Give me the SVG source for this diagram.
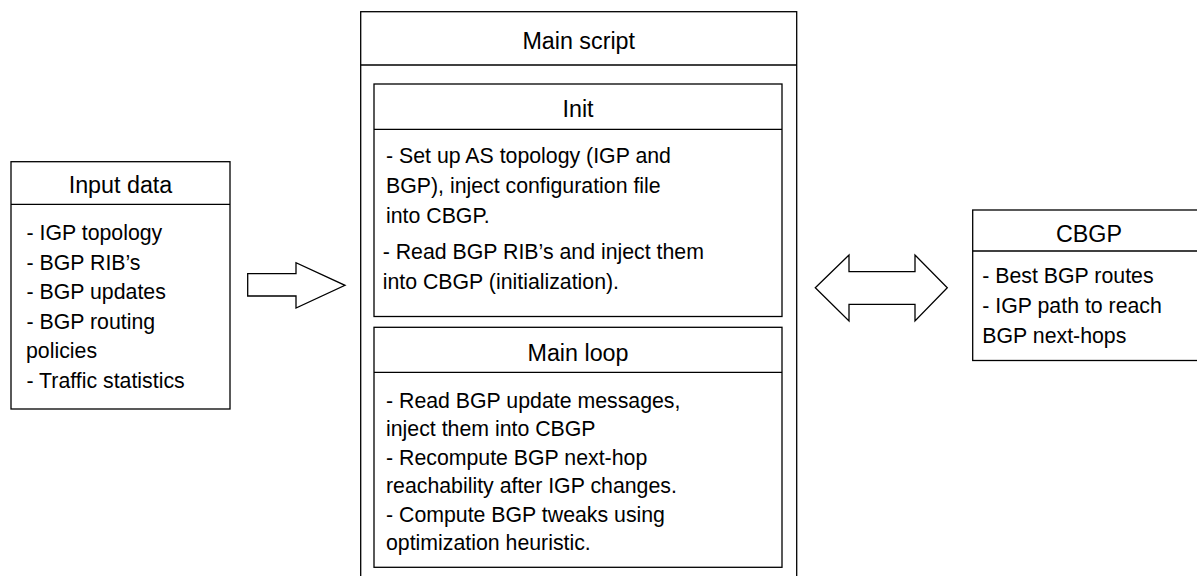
<svg xmlns="http://www.w3.org/2000/svg" width="1197" height="576" viewBox="0 0 1197 576">
<style>
.box{fill:#fff;stroke:#000;stroke-width:1.3}
.sep{stroke:#000;stroke-width:1.3}
.h{font-family:"Liberation Sans",Arial,sans-serif;font-size:23.3px;fill:#000;text-anchor:middle}
.t{font-family:"Liberation Sans",Arial,sans-serif;font-size:21.3px;fill:#000}
.arrow{fill:#fff;stroke:#000;stroke-width:1.3;stroke-linejoin:miter}
</style>
<rect width="1197" height="576" fill="#fff"/>
<g id="input-data">
<rect class="box" x="11" y="161.7" width="219" height="247.3"/>
<line class="sep" x1="11" y1="204.3" x2="230" y2="204.3"/>
<text class="h" x="120.5" y="193.3">Input data</text>
<text class="t" x="26.5" y="240">- IGP topology</text>
<text class="t" x="26.5" y="269.5">- BGP RIB’s</text>
<text class="t" x="26.5" y="299">- BGP updates</text>
<text class="t" x="26.5" y="328.5">- BGP routing</text>
<text class="t" x="26" y="358">policies</text>
<text class="t" x="26.5" y="387.5">- Traffic statistics</text>
</g>
<g id="main-script">
<rect class="box" x="360.7" y="11.7" width="436" height="570"/>
<line class="sep" x1="360.7" y1="65" x2="796.7" y2="65"/>
<text class="h" x="578.7" y="49.3">Main script</text>
</g>
<g id="init">
<rect class="box" x="374" y="84" width="408" height="232.5"/>
<line class="sep" x1="374" y1="129.3" x2="782" y2="129.3"/>
<text class="h" x="578" y="117.3">Init</text>
<text class="t" x="386" y="163.3">- Set up AS topology (IGP and</text>
<text class="t" x="386" y="193.3">BGP), inject configuration file</text>
<text class="t" x="386" y="223.3">into CBGP.</text>
<text class="t" x="382.7" y="259.3">- Read BGP RIB’s and inject them</text>
<text class="t" x="382.7" y="289.3">into CBGP (initialization).</text>
</g>
<g id="main-loop">
<rect class="box" x="374" y="327.3" width="408" height="240"/>
<line class="sep" x1="374" y1="372.3" x2="782" y2="372.3"/>
<text class="h" x="578" y="360.7">Main loop</text>
<text class="t" x="386" y="407.5">- Read BGP update messages,</text>
<text class="t" x="386" y="436">inject them into CBGP</text>
<text class="t" x="386" y="464.5">- Recompute BGP next-hop</text>
<text class="t" x="386" y="493">reachability after IGP changes.</text>
<text class="t" x="386" y="521.5">- Compute BGP tweaks using</text>
<text class="t" x="386" y="550">optimization heuristic.</text>
</g>
<g id="cbgp">
<rect class="box" x="972.7" y="210" width="232.6" height="150.5"/>
<line class="sep" x1="972.7" y1="251" x2="1205.3" y2="251"/>
<text class="h" x="1089" y="241.7">CBGP</text>
<text class="t" x="982.3" y="282.7">- Best BGP routes</text>
<text class="t" x="982.3" y="313.3">- IGP path to reach</text>
<text class="t" x="982.3" y="343.3">BGP next-hops</text>
</g>
<g id="connectors">
<polygon class="arrow" points="247.7,273.7 296,273.7 296,262.7 345,285.3 296,308 296,296 247.7,296"/>
<polygon class="arrow" points="815.3,287.7 849,255 849,271.7 915,271.7 915,255 947.3,287.7 915,321 915,304.3 849,304.3 849,321"/>
</g>
</svg>
